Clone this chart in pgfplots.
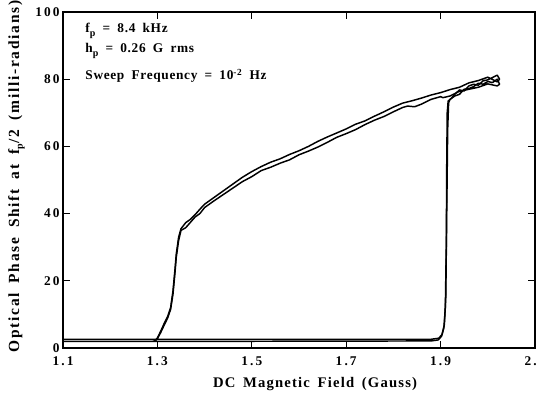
\documentclass[border=0pt]{standalone}
\usepackage{fontspec}
\setmainfont{Liberation Serif}
\newfontfamily\tickfont[LetterSpace=16]{Liberation Serif}
\newfontfamily\labfont[LetterSpace=8,WordSpace=1.6]{Liberation Serif}
\newfontfamily\ylabfont[LetterSpace=11,WordSpace=1.8]{Liberation Serif}
\newfontfamily\annfont[LetterSpace=5,WordSpace=1.8]{Liberation Serif}
\usepackage{pgfplots}
\pgfplotsset{compat=1.18}
\newcommand\sub[1]{\raisebox{-0.5ex}{\fontsize{7.5}{8}\selectfont #1}}
\pgfplotstableread{
x y
1.100 2.0
1.500 2.0
1.880 2.1
1.895 2.4
1.902 3.5
1.907 6
1.910 12
1.912 30
1.913 55
1.914 70
1.916 73.5
1.922 74.2
1.930 75.5
1.940 76.8
1.950 76.5
1.960 78.0
1.970 78.5
1.980 78.2
1.990 79.5
2.000 79.8
2.010 80.5
2.020 81.2
2.025 80.0
2.020 79.2
2.000 80.6
1.980 79.6
1.960 78.9
1.940 77.6
1.920 76.9
1.900 76.0
1.880 75.3
1.860 74.4
1.840 73.6
1.820 72.9
1.800 71.7
1.780 70.3
1.760 69.0
1.740 67.6
1.720 66.6
1.700 65.2
1.680 64.0
1.660 62.8
1.640 61.5
1.620 60.0
1.600 58.7
1.580 57.6
1.560 56.3
1.540 55.3
1.520 54.0
1.500 52.5
1.480 50.8
1.460 48.8
1.440 46.8
1.420 44.8
1.400 42.8
1.390 41.3
1.380 39.7
1.370 38.3
1.360 37.3
1.350 35.5
1.345 33
1.340 28
1.337 23
1.333 17
1.328 12
1.322 9.5
1.315 7.5
1.307 5
1.300 3
1.296 2.2
1.290 2.0
1.100 2.0
}\cycleA
\pgfplotstableread{
x y
1.100 2.6
1.880 2.6
1.896 2.9
1.903 4
1.908 7
1.911 15
1.913 40
1.915 65
1.917 73
1.920 74.0
1.930 75.0
1.940 75.5
1.950 77.0
1.960 77.2
1.970 77.8
1.980 78.8
1.990 78.5
2.000 79.3
2.010 79.0
2.020 80.0
2.025 78.5
2.020 78.0
2.000 78.6
1.980 77.6
1.960 77.0
1.940 76.4
1.920 75.0
1.905 74.5
1.900 74.8
1.880 74.0
1.860 72.6
1.845 71.8
1.830 72.0
1.820 71.6
1.800 70.3
1.780 68.9
1.760 67.8
1.740 66.5
1.720 65.0
1.700 63.8
1.680 62.7
1.660 61.2
1.640 59.8
1.620 58.6
1.600 57.5
1.580 56.0
1.560 55.0
1.540 53.8
1.520 52.8
1.500 51.0
1.480 49.5
1.460 47.6
1.440 45.7
1.420 43.8
1.400 41.8
1.390 40.0
1.380 39.0
1.370 37.4
1.360 35.8
1.350 35.0
1.345 32
1.340 27
1.337 22
1.333 16
1.328 11.5
1.322 9.0
1.315 7
1.307 4.6
1.300 2.8
1.297 2.6
1.100 2.6
}\cycleB
\begin{document}
\begin{tikzpicture}
\begin{axis}[
  scale only axis,
  width=354pt, height=252pt,
  xmin=1.1, xmax=2.1, ymin=0, ymax=100,
  xtick={1.1,1.3,1.5,1.7,1.9,2.1},
  ytick={0,20,40,60,80,100},
  /pgf/number format/assume math mode=true,
  xticklabel style={/pgf/number format/fixed, /pgf/number format/fixed zerofill, /pgf/number format/precision=1, yshift=-3pt},
  yticklabel style={xshift=1pt},
  ticklabel style={font=\tickfont\bfseries\fontsize{10}{11}\selectfont},
  tick align=inside,
  major tick length=5pt,
  tick style={line width=0.9pt, black},
  axis line style={line width=1.4pt},
  xlabel={DC Magnetic Field (Gauss)},
  ylabel={Optical Phase Shift at f\sub{p}/2 (milli-radians)},
  xlabel style={font=\labfont\bfseries\fontsize{11}{12}\selectfont, at={(axis description cs:0.534,-0.119)}, anchor=base},
  ylabel style={font=\ylabfont\bfseries\fontsize{11.6}{13}\selectfont, at={(axis description cs:-0.093,0.51)}, anchor=base},
  clip=false,
]
\addplot[black, line width=1.1pt, line join=round] table[x=x,y=y] {\cycleA};
\addplot[black, line width=1.1pt, line join=round] table[x=x,y=y] {\cycleB};
\node[anchor=base west, inner sep=0pt, font=\annfont\bfseries\fontsize{10}{12}\selectfont] at (axis cs:1.147,93.75) {f\sub{p} = 8.4 kHz};
\node[anchor=base west, inner sep=0pt, font=\annfont\bfseries\fontsize{10}{12}\selectfont] at (axis cs:1.147,87.8) {h\sub{p} = 0.26 G rms};
\node[anchor=base west, inner sep=0pt, font=\annfont\bfseries\fontsize{10}{12}\selectfont] at (axis cs:1.147,79.8) {Sweep Frequency = 10\textsuperscript{-2} Hz};
\end{axis}
\pgfresetboundingbox
\path ([shift={(-47.25pt,-34.5pt)}]current axis.south west) rectangle ([shift={(3pt,9pt)}]current axis.north east);
\end{tikzpicture}
\end{document}
